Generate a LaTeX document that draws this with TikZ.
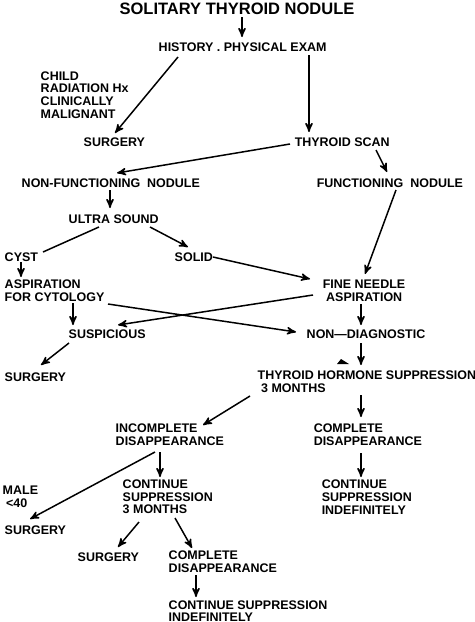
\documentclass[tikz,border=0pt]{standalone}
\usepackage{fontspec}
\setmainfont{Liberation Sans}
\usepackage{tikz}
\usetikzlibrary{arrows,calc}

\begin{document}
\begin{tikzpicture}[x=0.02cm,y=-0.02cm,->,>=stealth',line width=0.85pt]
  \tikzstyle{every node}=[inner sep=0pt,anchor=west,align=left,font=\fontsize{7.1}{7.2}\selectfont\bfseries]
  \tikzstyle{plain}=[-]
  \useasboundingbox (0,0) rectangle (474,622);

  \node[anchor=center,font=\fontsize{9.4}{10}\selectfont\bfseries] (title) at (237,9) {SOLITARY THYROID NODULE};
  \node (hist)     at (158,47)  {HISTORY . PHYSICAL EXAM};
  \node (crit)     at (40,95)   {CHILD\\RADIATION Hx\\CLINICALLY\\MALIGNANT};
  \node (surg1)    at (83,142)  {SURGERY};
  \node (scan)     at (294,142) {THYROID SCAN};
  \node (nonfn)    at (21,183)  {NON-FUNCTIONING\ \ NODULE};
  \node (fn)       at (316,183) {FUNCTIONING\ \ NODULE};
  \node (us)       at (68,219)  {ULTRA SOUND};
  \node (cyst)     at (4,257)   {CYST};
  \node (solid)    at (174,257) {SOLID};
  \node (asp)      at (4,291)   {ASPIRATION\\FOR CYTOLOGY};
  \node (fna)      at (322,291) {FINE NEEDLE\\\ ASPIRATION};
  \node (susp)     at (68,334)  {SUSPICIOUS};
  \node (nondiag)  at (306,334) {NON---DIAGNOSTIC};
  \node (surg2)    at (4,377)   {SURGERY};
  \node (ths)      at (257,382) {THYROID HORMONE SUPPRESSION\\\ 3 MONTHS};
  \node (incomp)   at (115,435) {INCOMPLETE\\DISAPPEARANCE};
  \node (comp)     at (313,435) {COMPLETE\\DISAPPEARANCE};
  \node (male)     at (2,497)   {MALE\\\ <40};
  \node (surg3)    at (4,530)   {SURGERY};
  \node (cont)     at (122,497) {CONTINUE\\SUPPRESSION\\3 MONTHS};
  \node (contind)  at (321,497) {CONTINUE\\SUPPRESSION\\INDEFINITELY};
  \node (surg4)    at (77,557)  {SURGERY};
  \node (comp2)    at (168,562) {COMPLETE\\DISAPPEARANCE};
  \node (contind2) at (168,611) {CONTINUE SUPPRESSION\\INDEFINITELY};

  % connectors
  \draw ($(title.center)+(5,8)$)  -- ($(hist.west)+(84,-10)$);
  \draw ($(hist.west)+(20,10)$)   -- ($(surg1.west)+(32,-9)$);
  \draw ($(hist.west)+(151,8)$)   -- ($(scan.west)+(15,-10)$);
  \draw ($(scan.west)+(-4,2)$)    -- ($(nonfn.west)+(96,-10)$);
  \draw ($(scan.west)+(82,8)$)    -- ($(fn.west)+(71,-11)$);
  \draw ($(nonfn.west)+(89,7)$)   -- ($(us.west)+(42,-11)$);
  \draw[plain] ($(us.west)+(31,8)$) -- ($(cyst.west)+(39,-5)$);
  \draw ($(us.west)+(82,8)$)      -- ($(solid.west)+(14,-10)$);
  \draw ($(solid.west)+(39,0)$)   -- ($(fna.west)+(-12,-12)$);
  \draw ($(fn.west)+(80,7)$)      -- ($(fna.west)+(43,-17)$);
  \draw ($(cyst.west)+(17,5)$)    -- ($(asp.west)+(17,-14)$);
  \draw ($(asp.west)+(69,12)$)    -- ($(susp.west)+(5,-9)$);
  \draw ($(asp.west)+(104,13)$)   -- ($(nondiag.west)+(-10,-2)$);
  \draw ($(fna.west)+(-9,4)$)     -- ($(susp.west)+(50,-9)$);
  \draw ($(fna.west)+(39,13)$)    -- ($(nondiag.west)+(55,-9)$);
  \draw ($(susp.west)+(1,9)$)     -- ($(surg2.west)+(37,-12)$);
  \draw ($(nondiag.west)+(55,9)$) -- ($(ths.west)+(104,-17)$);
  \draw ($(ths.west)+(104,13)$)   -- ($(comp.west)+(48,-18)$);
  \draw ($(ths.west)+(-7,14)$)    -- ($(incomp.west)+(88,-10)$);
  \draw ($(comp.west)+(48,18)$)   -- ($(contind.west)+(40,-20)$);
  \draw ($(incomp.west)+(45,17)$) -- ($(cont.west)+(38,-20)$);
  \draw ($(incomp.west)+(40,17)$) -- ($(surg3.west)+(26,-11)$);
  \draw ($(cont.west)+(17,25)$)   -- ($(surg4.west)+(41,-10)$);
  \draw ($(cont.west)+(53,21)$)   -- ($(comp2.west)+(24,-14)$);
  \draw ($(comp2.west)+(28,13)$)  -- ($(contind2.west)+(28,-14)$);

  % stray mark above the hormone box
  \fill[plain] (337,364) -- (341,359) -- (349,364) -- cycle;
\end{tikzpicture}
\end{document}
